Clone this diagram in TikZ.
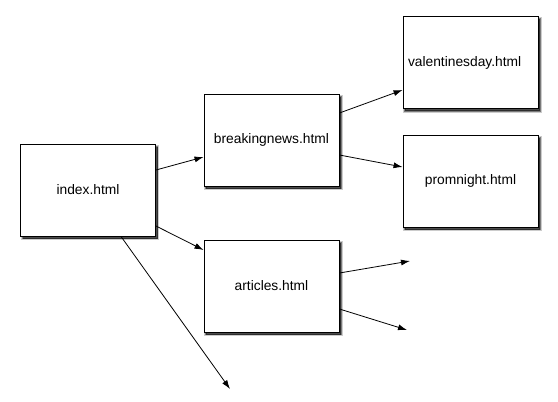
\documentclass[tikz,border=0pt]{standalone}
\usepackage{fontspec}
\setmainfont{Liberation Sans}
\usetikzlibrary{arrows.meta,shadows}
\begin{document}
\begin{tikzpicture}[x=1pt,y=-1pt,
  page/.style={draw=black,line width=0.9pt,fill=white,minimum width=135pt,minimum height=92pt,inner sep=0pt,
    general shadow={shadow xshift=2pt,shadow yshift=-2.5pt,fill=black,opacity=0.25,draw=black,draw opacity=0.2,line width=3.5pt},
    general shadow={shadow xshift=2pt,shadow yshift=-2.5pt,fill=black,opacity=0.5,draw=black,draw opacity=0.4,line width=1.5pt},
    font=\fontsize{13.8}{16}\selectfont},
  link/.style={line width=0.8pt,-{Latex[length=9pt,width=6pt]}}]
\useasboundingbox (0,0) rectangle (558,402);
\node[page] (idx) at (88,190) {index.html};
\node[page] (bn) at (271.5,140) {breakingnews.html};
\node[page] (art) at (271.5,286) {articles.html};
\node[page,text width=125pt,align=left] (val) at (470.5,62.5) {\raisebox{-3pt}{valentinesday.html}};
\node[page] (prom) at (470.5,181) {\raisebox{-6pt}{promnight.html}};
\coordinate (f1) at (410,261);
\coordinate (f2) at (407,330);
\coordinate (f3) at (230,389);
\draw[link] ([yshift=20pt]idx.east) -- ([yshift=-17pt]bn.west);
\draw[link] ([yshift=-36pt]idx.east) -- ([yshift=36pt]art.west);
\draw[link] ([xshift=33pt]idx.south) -- (f3);
\draw[link] ([yshift=27pt]bn.east) -- ([yshift=-27.5pt]val.west);
\draw[link] ([yshift=-15pt]bn.east) -- ([yshift=14pt]prom.west);
\draw[link] ([yshift=13pt]art.east) -- (f1);
\draw[link] ([yshift=-23pt]art.east) -- (f2);
\end{tikzpicture}
\end{document}
